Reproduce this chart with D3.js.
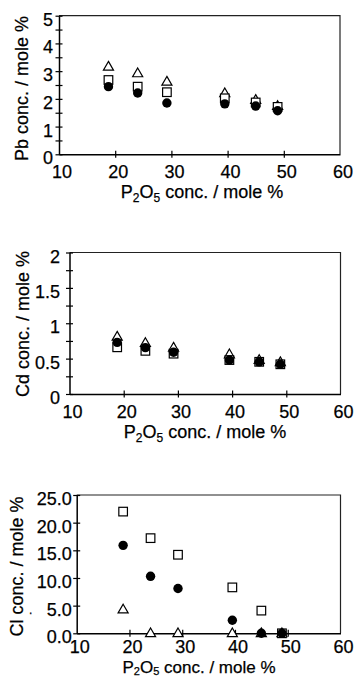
<!DOCTYPE html>
<html>
<head>
<meta charset="utf-8">
<script src="https://cdn.jsdelivr.net/npm/d3@7"></script>
<style>
  html, body { margin: 0; padding: 0; background: #fff; }
  svg { display: block; }
  text { font-family: "Liberation Sans", Arial, sans-serif; fill: #000; stroke: #000; stroke-width: 0.25px; }
</style>
</head>
<body>
<svg id="chart" width="357" height="677"></svg>
<script>
// ---------------- data ----------------
const p2o5 = [18.8, 24.0, 29.2, 39.5, 45.0, 48.9];
const xTicks = [10, 20, 30, 40, 50, 60];

const pbTriangle = [3.16, 2.92, 2.62, 2.2, 1.96, 1.74];
const pbSquare   = [2.68, 2.44, 2.24, 2.02, 1.87, 1.71];
const pbCircle   = [2.44, 2.21, 1.85, 1.82, 1.74, 1.57];
const pbTicks    = [0, 1, 2, 3, 4, 5];
const pbMinor    = [0.5, 1.5, 2.5, 3.5, 4.5];

const cdTriangle = [0.81, 0.72, 0.655, 0.56, 0.48, 0.45];
const cdSquare   = [0.66, 0.61, 0.57, 0.48, 0.455, 0.42];
const cdCircle   = [0.73, 0.655, 0.59, 0.48, 0.455, 0.42];
const cdTicks    = [0, 0.5, 1, 1.5, 2];
const cdMinor    = [0.25, 0.75, 1.25, 1.75];

const clTriangle = [4.3, 0, 0, 0, 0, 0];
const clSquare   = [22.0, 17.2, 14.2, 8.3, 4.1, 0];
const clCircle   = [15.9, 10.3, 8.1, 2.35, 0, 0];
const clTicks    = [0, 5, 10, 15, 20, 25];

// ---------------- drawing ----------------
const svg = d3.select("#chart");

function xTitle(g, x, y, fs, sfs, sdy) {
  const t = g.append("text").attr("x", x).attr("y", y)
    .attr("text-anchor", "middle").attr("font-size", fs);
  t.append("tspan").text("P");
  t.append("tspan").attr("font-size", sfs).attr("dy", sdy).text("2");
  t.append("tspan").attr("dy", -sdy).text("O");
  t.append("tspan").attr("font-size", sfs).attr("dy", sdy).text("5");
  t.append("tspan").attr("dy", -sdy).text(" conc. / mole %");
}

function panel(cfg) {
  const g = svg.append("g");
  const x = d3.scaleLinear().domain([10, 60]).range([cfg.left, cfg.right]);
  const y = d3.scaleLinear().domain([0, cfg.ymax]).range([cfg.bottom, cfg.top]);

  // frame top / right
  g.append("path")
    .attr("d", `M${cfg.left},${cfg.top}H${cfg.right}V${cfg.bottom}`)
    .attr("fill", "none").attr("stroke", "#222").attr("stroke-width", 1.2);

  // y axis
  const yAxis = d3.axisLeft(y).tickValues(cfg.yTicks.concat(cfg.yMinor || []))
    .tickSize(0).tickFormat("");
  const ya = g.append("g").attr("transform", `translate(${cfg.left},0)`).call(yAxis);
  ya.select(".domain").attr("stroke", "#000").attr("stroke-width", 1.5);
  ya.selectAll(".tick").append("line")
    .attr("x1", -3.5).attr("x2", 3.5).attr("stroke", "#000").attr("stroke-width", 1.2);
  g.selectAll(".ylab").data(cfg.yTicks).enter().append("text")
    .attr("x", cfg.left - cfg.labOff).attr("y", d => y(d) + 10)
    .attr("text-anchor", "end").attr("font-size", 18)
    .text(d => cfg.fmt(d));

  // x axis
  const xAxis = d3.axisBottom(x).tickValues(xTicks.slice(1, 5)).tickSize(0).tickFormat("");
  const xa = g.append("g").attr("transform", `translate(0,${cfg.bottom})`).call(xAxis);
  xa.select(".domain").attr("stroke", "#000").attr("stroke-width", 1.5);
  xa.selectAll(".tick").append("line")
    .attr("y1", -3.5).attr("y2", 3.5).attr("stroke", "#000").attr("stroke-width", 1.2);
  g.selectAll(".xlab").data(xTicks).enter().append("text")
    .attr("x", d => x(d) + 3).attr("y", cfg.bottom + cfg.xLabOff)
    .attr("text-anchor", "middle").attr("font-size", 18)
    .text(d => d);

  xTitle(g, cfg.xTitleX, cfg.bottom + cfg.xTitleOff, cfg.xTitleFs, cfg.subFs, cfg.subDy);

  g.append("text")
    .attr("transform", `translate(${cfg.yTitleX},${cfg.yTitleY}) rotate(-90)`)
    .attr("text-anchor", "middle").attr("font-size", 18)
    .text(cfg.yTitle);

  // markers: triangles, squares, circles
  const tri = d3.symbol().type(d3.symbolTriangle).size(44);
  g.selectAll(".tri").data(cfg.tri).enter().append("path")
    .attr("d", tri)
    .attr("transform", (d, i) => `translate(${x(p2o5[i])},${y(d) + 0.5})`)
    .attr("fill", "#fff").attr("stroke", "#000").attr("stroke-width", 1.2);
  g.selectAll(".sq").data(cfg.sq).enter().append("rect")
    .attr("x", (d, i) => x(p2o5[i]) - 4.3).attr("y", d => y(d) - 4.3)
    .attr("width", 8.6).attr("height", 8.6)
    .attr("fill", "#fff").attr("stroke", "#000").attr("stroke-width", 1.2);
  g.selectAll(".ci").data(cfg.ci).enter().append("circle")
    .attr("cx", (d, i) => x(p2o5[i])).attr("cy", d => y(d)).attr("r", 4.7)
    .attr("fill", "#000");
  return g;
}

panel({
  left: 59, right: 340, top: 15.7, bottom: 154.3, ymax: 5,
  yTicks: pbTicks, yMinor: pbMinor, fmt: d => d, labOff: 6, xLabOff: 23.7,
  xTitleOff: 44, xTitleFs: 18, subFs: 12, subDy: 4,
  xTitleX: 202, yTitleX: 28, yTitleY: 88.5, yTitle: "Pb conc. / mole %",
  tri: pbTriangle, sq: pbSquare, ci: pbCircle
});

panel({
  left: 69.5, right: 340.5, top: 252.5, bottom: 394, ymax: 2,
  yTicks: cdTicks, yMinor: cdMinor, fmt: d => d, labOff: 9.5, xLabOff: 24.3,
  xTitleOff: 44, xTitleFs: 18, subFs: 12, subDy: 4,
  xTitleX: 205, yTitleX: 29, yTitleY: 324, yTitle: "Cd conc. / mole %",
  tri: cdTriangle, sq: cdSquare, ci: cdCircle
});

const g3 = panel({
  left: 76.7, right: 340.5, top: 495, bottom: 633.3, ymax: 25,
  yTicks: clTicks, yMinor: [], fmt: d => d3.format(".1f")(d), labOff: 5, xLabOff: 20,
  xTitleOff: 39.3, xTitleFs: 17, subFs: 11, subDy: 2,
  xTitleX: 199, yTitleX: 23, yTitleY: 566.5, yTitle: "Cl conc. / mole %",
  tri: clTriangle, sq: clSquare, ci: clCircle
});
g3.append("text").attr("x", 29).attr("y", 614).attr("font-size", 12).text(".");
</script>
</body>
</html>
